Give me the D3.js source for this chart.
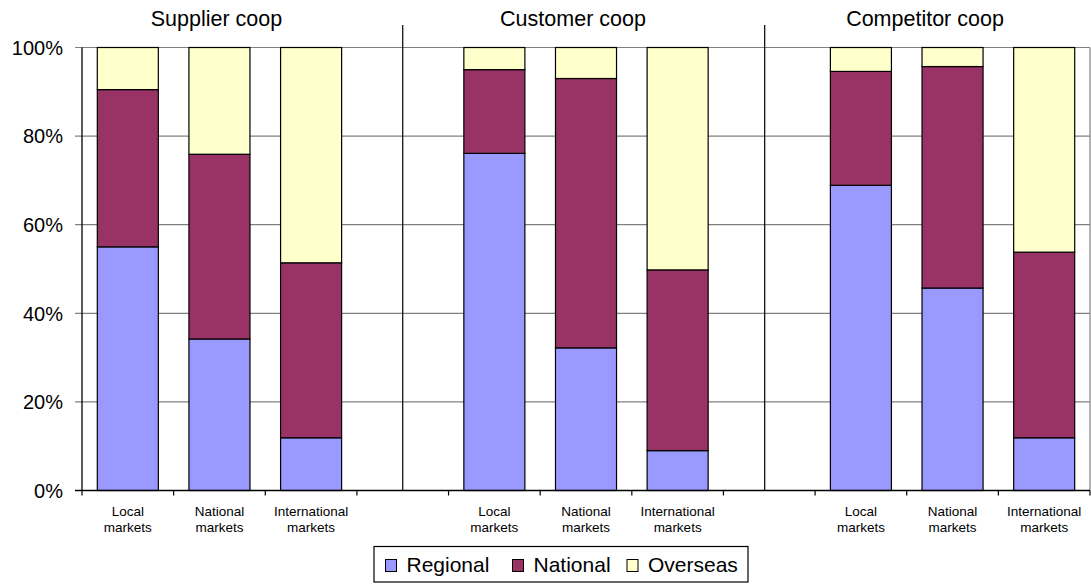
<!DOCTYPE html>
<html>
<head>
<meta charset="utf-8">
<script src="https://cdn.jsdelivr.net/npm/d3@7/dist/d3.min.js"></script>
<style>
  html, body { margin: 0; padding: 0; background: #fff; }
  svg { display: block; font-family: "Liberation Sans", Arial, Helvetica, sans-serif; }
</style>
</head>
<body>
<svg id="chart" width="1091" height="584"></svg>
<script>
// Cooperation type groups and market categories
const groups = ["Supplier coop", "Customer coop", "Competitor coop"];
const markets = ["Local markets", "National markets", "International markets"];
const seriesNames = ["Regional", "National", "Overseas"];
const seriesColors = ["#9999FF", "#993366", "#FFFFCC"];

// Percent shares, ordered group by group, market by market
const regional = [55.0, 34.2, 11.9, 76.1, 32.2, 9.0, 68.9, 45.7, 11.9];
const national = [35.5, 41.7, 39.5, 18.9, 60.8, 40.8, 25.7, 50.0, 41.9];
const overseas = [9.5, 24.1, 48.6, 5.0, 7.0, 50.2, 5.4, 4.3, 46.2];

const yTicks = [0, 20, 40, 60, 80, 100];

(function draw() {
  const svg = d3.select("#chart");
  const plotLeft = 82, plotRight = 1090, plotTop = 47.5, plotBottom = 490.5;

  // 11 category slots: three bars per group with an empty slot between groups
  const slots = d3.range(11);
  const slotOf = (g, m) => g * 4 + m;

  const x = d3.scaleBand().domain(slots).range([plotLeft, plotRight])
    .paddingInner(0.334).paddingOuter(0.167);
  const step = x.step();
  const slotStart = i => plotLeft + i * step;

  const y = d3.scaleLinear().domain([0, 100]).range([plotBottom, plotTop]);

  // Rows for stacking
  const rows = [];
  groups.forEach((g, gi) => markets.forEach((m, mi) => {
    const k = gi * 3 + mi;
    rows.push({ slot: slotOf(gi, mi), market: m, Regional: regional[k], National: national[k], Overseas: overseas[k] });
  }));
  const stacked = d3.stack().keys(seriesNames)(rows);

  // Gridlines
  svg.append("g").selectAll("line").data(yTicks).join("line")
    .attr("x1", plotLeft - 7).attr("x2", plotRight)
    .attr("y1", d => y(d)).attr("y2", d => y(d))
    .attr("stroke", "#808080").attr("stroke-width", 1.2);

  // Right plot border
  svg.append("line").attr("x1", plotRight).attr("x2", plotRight)
    .attr("y1", y(100)).attr("y2", y(0)).attr("stroke", "#808080").attr("stroke-width", 1.2);

  // Group separators and titles
  const sepSlots = [3, 7];
  const sepFrac = [0.5, 0.45];
  svg.append("g").selectAll("line").data(sepSlots).join("line")
    .attr("x1", (d, i) => slotStart(d) + step * sepFrac[i])
    .attr("x2", (d, i) => slotStart(d) + step * sepFrac[i])
    .attr("y1", 25).attr("y2", plotBottom)
    .attr("stroke", "#000").attr("stroke-width", 1.2);

  const titleX = [216.5, 573, 925];
  svg.append("g").selectAll("text").data(groups).join("text")
    .attr("x", (d, i) => titleX[i]).attr("y", 26)
    .attr("text-anchor", "middle").attr("font-size", "21.5px").attr("fill", "#000")
    .text(d => d);

  // Stacked bars
  svg.append("g").selectAll("g").data(stacked).join("g")
    .attr("fill", (d, i) => seriesColors[i])
    .selectAll("rect").data(d => d).join("rect")
    .attr("x", d => x(d.data.slot))
    .attr("width", x.bandwidth())
    .attr("y", d => y(d[1]))
    .attr("height", d => y(d[0]) - y(d[1]))
    .attr("stroke", "#000").attr("stroke-width", 1.2);

  // Y axis
  svg.append("line").attr("x1", plotLeft).attr("x2", plotLeft)
    .attr("y1", y(100)).attr("y2", y(0)).attr("stroke", "#000").attr("stroke-width", 1.3);
  svg.append("g").selectAll("text").data(yTicks).join("text")
    .attr("x", 63).attr("y", d => y(d)).attr("dy", "0.36em")
    .attr("text-anchor", "end").attr("font-size", "20px").attr("fill", "#000")
    .text(d => d + "%");

  // X axis line and slot boundary ticks
  svg.append("line").attr("x1", plotLeft - 7).attr("x2", plotRight)
    .attr("y1", y(0)).attr("y2", y(0)).attr("stroke", "#000").attr("stroke-width", 1.3);
  svg.append("g").selectAll("line").data(d3.range(12)).join("line")
    .attr("x1", d => slotStart(d)).attr("x2", d => slotStart(d))
    .attr("y1", y(0)).attr("y2", y(0) + 5)
    .attr("stroke", "#000").attr("stroke-width", 1.2);

  // Category labels (two lines)
  const lab = svg.append("g").selectAll("text").data(rows).join("text")
    .attr("text-anchor", "middle").attr("font-size", "13.5px").attr("fill", "#000");
  lab.each(function(d) {
    const cx = x(d.slot) + x.bandwidth() / 2;
    const parts = d.market.split(" ");
    d3.select(this).selectAll("tspan").data(parts).join("tspan")
      .attr("x", cx).attr("y", (p, i) => 515.5 + i * 16.5).text(p => p);
  });

  // Legend
  const legend = svg.append("g");
  legend.append("rect").attr("x", 374).attr("y", 546.5).attr("width", 374).attr("height", 35.5)
    .attr("fill", "#fff").attr("stroke", "#000").attr("stroke-width", 1.2);
  const legX = [385.5, 512.5, 627];
  const item = legend.selectAll("g").data(seriesNames).join("g")
    .attr("transform", (d, i) => `translate(${legX[i]},559.5)`);
  item.append("rect").attr("width", 11).attr("height", 12)
    .attr("fill", (d, i) => seriesColors[i]).attr("stroke", "#000").attr("stroke-width", 1);
  item.append("text").attr("x", 21).attr("y", 12.8)
    .attr("font-size", "21px").attr("fill", "#000").text(d => d);
})();
</script>
</body>
</html>
